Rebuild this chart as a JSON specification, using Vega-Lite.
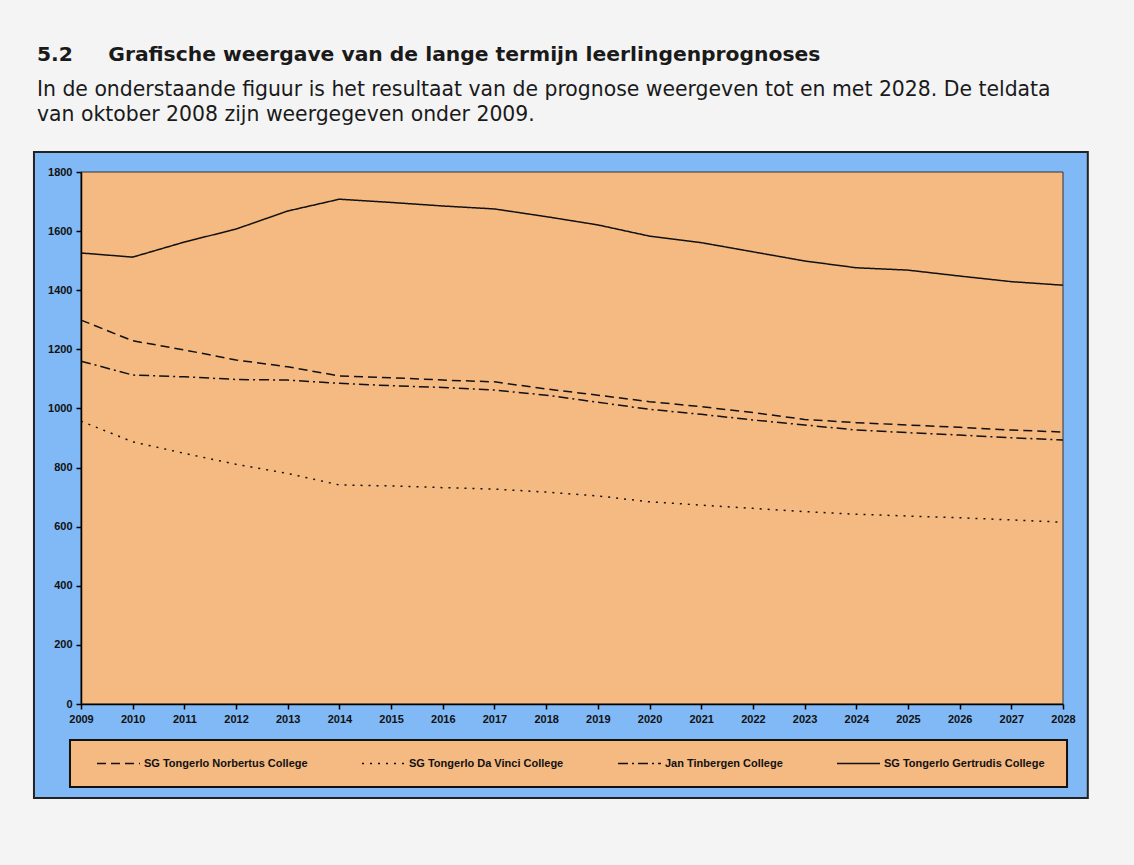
{
  "$schema": "https://vega.github.io/schema/vega-lite/v6.json",
  "autosize": "none",
  "width": 982,
  "height": 532,
  "padding": {"left": 81, "top": 172, "right": 71, "bottom": 161},
  "background": "#f4f4f4",
  "config": {
    "view": {"stroke": null},
    "axis": {
      "domainColor": "#000",
      "domainWidth": 1.5,
      "tickColor": "#000",
      "tickWidth": 1.5,
      "tickSize": 5,
      "labelFont": "Liberation Sans",
      "labelFontSize": 11,
      "labelFontWeight": "bold",
      "labelColor": "#111",
      "grid": false,
      "title": null
    }
  },
  "title": {
    "text": "5.2\u00a0\u00a0\u00a0\u00a0\u00a0Grafische weergave van de lange termijn leerlingenprognoses",
    "subtitle": [
      "In de onderstaande figuur is het resultaat van de prognose weergeven tot en met 2028. De teldata",
      "van oktober 2008 zijn weergegeven onder 2009."
    ],
    "anchor": "start",
    "frame": "group",
    "dx": -44,
    "offset": 26,
    "font": "DejaVu Sans",
    "fontSize": 20.3,
    "fontWeight": "bold",
    "color": "#1a1a1a",
    "subtitleFont": "DejaVu Sans",
    "subtitleFontSize": 20.4,
    "subtitleColor": "#1a1a1a",
    "subtitlePadding": 14,
    "subtitleLineHeight": 25
  },
  "data": {
    "values": [
      {"year": 2009, "school": "SG Tongerlo Norbertus College", "value": 1299},
      {"year": 2010, "school": "SG Tongerlo Norbertus College", "value": 1229},
      {"year": 2011, "school": "SG Tongerlo Norbertus College", "value": 1198},
      {"year": 2012, "school": "SG Tongerlo Norbertus College", "value": 1164},
      {"year": 2013, "school": "SG Tongerlo Norbertus College", "value": 1141},
      {"year": 2014, "school": "SG Tongerlo Norbertus College", "value": 1110},
      {"year": 2015, "school": "SG Tongerlo Norbertus College", "value": 1104},
      {"year": 2016, "school": "SG Tongerlo Norbertus College", "value": 1096},
      {"year": 2017, "school": "SG Tongerlo Norbertus College", "value": 1090},
      {"year": 2018, "school": "SG Tongerlo Norbertus College", "value": 1066},
      {"year": 2019, "school": "SG Tongerlo Norbertus College", "value": 1045},
      {"year": 2020, "school": "SG Tongerlo Norbertus College", "value": 1023},
      {"year": 2021, "school": "SG Tongerlo Norbertus College", "value": 1006},
      {"year": 2022, "school": "SG Tongerlo Norbertus College", "value": 986},
      {"year": 2023, "school": "SG Tongerlo Norbertus College", "value": 963},
      {"year": 2024, "school": "SG Tongerlo Norbertus College", "value": 952},
      {"year": 2025, "school": "SG Tongerlo Norbertus College", "value": 944},
      {"year": 2026, "school": "SG Tongerlo Norbertus College", "value": 936},
      {"year": 2027, "school": "SG Tongerlo Norbertus College", "value": 927},
      {"year": 2028, "school": "SG Tongerlo Norbertus College", "value": 920},
      {"year": 2009, "school": "SG Tongerlo Da Vinci College", "value": 957},
      {"year": 2010, "school": "SG Tongerlo Da Vinci College", "value": 887},
      {"year": 2011, "school": "SG Tongerlo Da Vinci College", "value": 848},
      {"year": 2012, "school": "SG Tongerlo Da Vinci College", "value": 811},
      {"year": 2013, "school": "SG Tongerlo Da Vinci College", "value": 780},
      {"year": 2014, "school": "SG Tongerlo Da Vinci College", "value": 741},
      {"year": 2015, "school": "SG Tongerlo Da Vinci College", "value": 738},
      {"year": 2016, "school": "SG Tongerlo Da Vinci College", "value": 732},
      {"year": 2017, "school": "SG Tongerlo Da Vinci College", "value": 727},
      {"year": 2018, "school": "SG Tongerlo Da Vinci College", "value": 717},
      {"year": 2019, "school": "SG Tongerlo Da Vinci College", "value": 704},
      {"year": 2020, "school": "SG Tongerlo Da Vinci College", "value": 684},
      {"year": 2021, "school": "SG Tongerlo Da Vinci College", "value": 673},
      {"year": 2022, "school": "SG Tongerlo Da Vinci College", "value": 662},
      {"year": 2023, "school": "SG Tongerlo Da Vinci College", "value": 651},
      {"year": 2024, "school": "SG Tongerlo Da Vinci College", "value": 642},
      {"year": 2025, "school": "SG Tongerlo Da Vinci College", "value": 636},
      {"year": 2026, "school": "SG Tongerlo Da Vinci College", "value": 630},
      {"year": 2027, "school": "SG Tongerlo Da Vinci College", "value": 623},
      {"year": 2028, "school": "SG Tongerlo Da Vinci College", "value": 615},
      {"year": 2009, "school": "Jan Tinbergen College", "value": 1160},
      {"year": 2010, "school": "Jan Tinbergen College", "value": 1113},
      {"year": 2011, "school": "Jan Tinbergen College", "value": 1107},
      {"year": 2012, "school": "Jan Tinbergen College", "value": 1098},
      {"year": 2013, "school": "Jan Tinbergen College", "value": 1096},
      {"year": 2014, "school": "Jan Tinbergen College", "value": 1085},
      {"year": 2015, "school": "Jan Tinbergen College", "value": 1077},
      {"year": 2016, "school": "Jan Tinbergen College", "value": 1071},
      {"year": 2017, "school": "Jan Tinbergen College", "value": 1062},
      {"year": 2018, "school": "Jan Tinbergen College", "value": 1045},
      {"year": 2019, "school": "Jan Tinbergen College", "value": 1021},
      {"year": 2020, "school": "Jan Tinbergen College", "value": 997},
      {"year": 2021, "school": "Jan Tinbergen College", "value": 980},
      {"year": 2022, "school": "Jan Tinbergen College", "value": 961},
      {"year": 2023, "school": "Jan Tinbergen College", "value": 944},
      {"year": 2024, "school": "Jan Tinbergen College", "value": 927},
      {"year": 2025, "school": "Jan Tinbergen College", "value": 918},
      {"year": 2026, "school": "Jan Tinbergen College", "value": 910},
      {"year": 2027, "school": "Jan Tinbergen College", "value": 901},
      {"year": 2028, "school": "Jan Tinbergen College", "value": 893},
      {"year": 2009, "school": "SG Tongerlo Gertrudis College", "value": 1526},
      {"year": 2010, "school": "SG Tongerlo Gertrudis College", "value": 1512},
      {"year": 2011, "school": "SG Tongerlo Gertrudis College", "value": 1563},
      {"year": 2012, "school": "SG Tongerlo Gertrudis College", "value": 1607},
      {"year": 2013, "school": "SG Tongerlo Gertrudis College", "value": 1668},
      {"year": 2014, "school": "SG Tongerlo Gertrudis College", "value": 1708},
      {"year": 2015, "school": "SG Tongerlo Gertrudis College", "value": 1697},
      {"year": 2016, "school": "SG Tongerlo Gertrudis College", "value": 1685},
      {"year": 2017, "school": "SG Tongerlo Gertrudis College", "value": 1675},
      {"year": 2018, "school": "SG Tongerlo Gertrudis College", "value": 1649},
      {"year": 2019, "school": "SG Tongerlo Gertrudis College", "value": 1621},
      {"year": 2020, "school": "SG Tongerlo Gertrudis College", "value": 1583},
      {"year": 2021, "school": "SG Tongerlo Gertrudis College", "value": 1561},
      {"year": 2022, "school": "SG Tongerlo Gertrudis College", "value": 1530},
      {"year": 2023, "school": "SG Tongerlo Gertrudis College", "value": 1499},
      {"year": 2024, "school": "SG Tongerlo Gertrudis College", "value": 1476},
      {"year": 2025, "school": "SG Tongerlo Gertrudis College", "value": 1468},
      {"year": 2026, "school": "SG Tongerlo Gertrudis College", "value": 1448},
      {"year": 2027, "school": "SG Tongerlo Gertrudis College", "value": 1429},
      {"year": 2028, "school": "SG Tongerlo Gertrudis College", "value": 1417}
    ]
  },
  "layer": [
    {
      "data": {"values": [{}]},
      "mark": {"type": "rect", "fill": "#80b9f5", "stroke": "#222", "strokeWidth": 2, "clip": false},
      "encoding": {
        "x": {"datum": 2008.09, "type": "quantitative", "axis": {"zindex": 1}},
        "x2": {"datum": 2028.48},
        "y": {"datum": 1868, "type": "quantitative", "axis": {"zindex": 1}},
        "y2": {"datum": -318}
      }
    },
    {
      "data": {"values": [{}]},
      "mark": {"type": "rect", "fill": "#f5b982", "stroke": "#111", "strokeWidth": 2, "clip": false},
      "encoding": {
        "x": {"datum": 2008.787, "type": "quantitative"},
        "x2": {"datum": 2028.078},
        "y": {"datum": -121.8, "type": "quantitative"},
        "y2": {"datum": -280.8}
      }
    },
    {
      "data": {"values": [{}]},
      "mark": {"type": "rect", "fill": "#f5b982", "stroke": "#333", "strokeWidth": 1, "clip": false},
      "encoding": {
        "x": {"datum": 2009, "type": "quantitative"},
        "x2": {"datum": 2028},
        "y": {"datum": 0, "type": "quantitative"},
        "y2": {"datum": 1800}
      }
    },
    {
      "mark": {"type": "line", "color": "#111", "strokeWidth": 1.5},
      "encoding": {
        "x": {
          "field": "year",
          "type": "quantitative",
          "scale": {"domain": [2009, 2028], "nice": false, "zero": false},
          "axis": {
            "values": [2009, 2010, 2011, 2012, 2013, 2014, 2015, 2016, 2017, 2018, 2019, 2020, 2021, 2022, 2023, 2024, 2025, 2026, 2027, 2028],
            "format": "d",
            "labelPadding": 4,
            "labelFlush": false,
            "labelOverlap": false,
            "zindex": 1
          }
        },
        "y": {
          "field": "value",
          "type": "quantitative",
          "scale": {"domain": [0, 1800], "nice": false},
          "axis": {
            "values": [0, 200, 400, 600, 800, 1000, 1200, 1400, 1600, 1800],
            "format": "d",
            "labelPadding": 4,
            "zindex": 1
          }
        },
        "strokeDash": {
          "field": "school",
          "type": "nominal",
          "scale": {
            "domain": ["SG Tongerlo Norbertus College", "SG Tongerlo Da Vinci College", "Jan Tinbergen College", "SG Tongerlo Gertrudis College"],
            "range": [[9, 5], [2, 6], [10, 4, 2, 4], [1, 0]]
          },
          "legend": {
            "orient": "none",
            "legendX": 15,
            "legendY": 569,
            "direction": "horizontal",
            "columns": 4,
            "gridAlign": "none",
            "columnPadding": 51,
            "padding": 0,
            "title": null,
            "symbolSize": 1849,
            "symbolStrokeWidth": 1.5,
            "symbolStrokeColor": "#111",
            "labelFont": "Liberation Sans",
            "labelFontSize": 11,
            "labelFontWeight": "bold",
            "labelColor": "#111",
            "labelOffset": 3,
            "labelLimit": 0
          }
        }
      }
    }
  ]
}
